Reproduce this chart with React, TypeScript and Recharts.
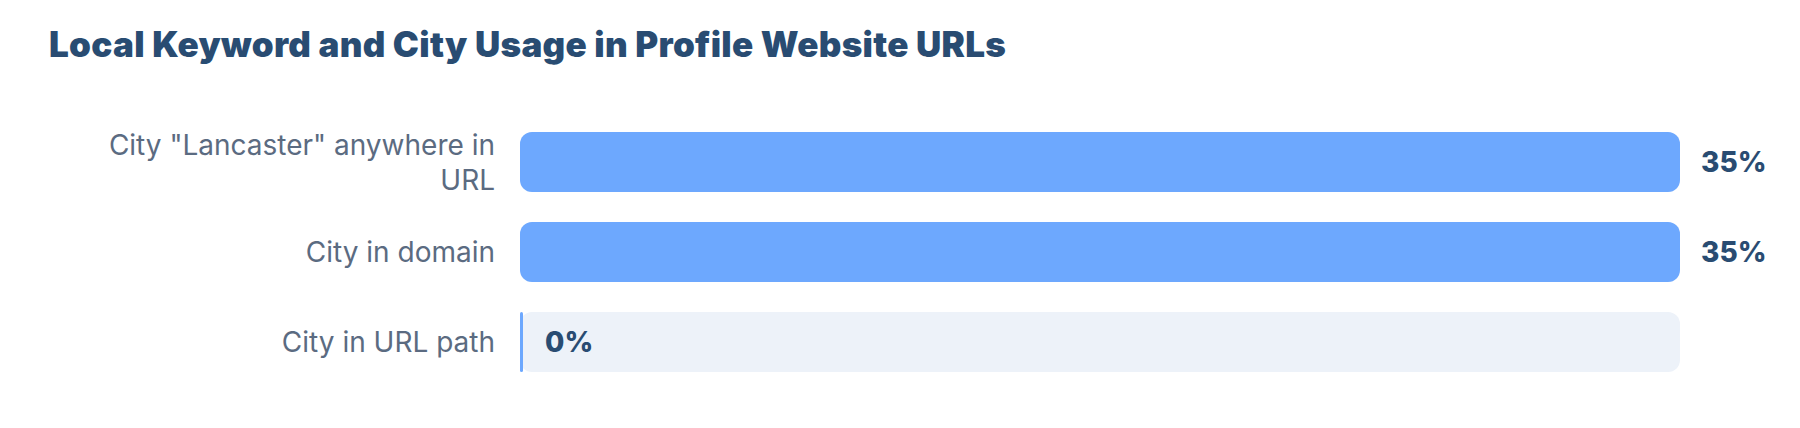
import React from 'react'
import { BarChart, Bar, XAxis, YAxis, LabelList } from 'recharts'

const categories = ['City "Lancaster" anywhere in URL', 'City in domain', 'City in URL path']
const shares = [35, 35, 0]
const maxShare = 35

const data = categories.map((name, i) => ({ name, value: shares[i] }))

const FONT = 'Inter, "Noto Sans", sans-serif'
const TICK_SIZE = 28
const TICK_LINE = 35
const TICK_MAX_WIDTH = 410

let ctx: CanvasRenderingContext2D | null = null
const measure = (s: string) => {
  if (!ctx) {
    ctx = document.createElement('canvas').getContext('2d')
    if (ctx) ctx.font = `${TICK_SIZE}px Inter`
  }
  return ctx ? ctx.measureText(s).width : s.length * TICK_SIZE * 0.55
}

const wrap = (label: string) => {
  const words = label.split(' ')
  const lines: string[] = []
  let cur = ''
  words.forEach((w) => {
    const next = cur ? cur + ' ' + w : w
    if (cur && measure(next) > TICK_MAX_WIDTH) {
      lines.push(cur)
      cur = w
    } else {
      cur = next
    }
  })
  if (cur) lines.push(cur)
  return lines
}

const CategoryTick = (props: any) => {
  const { x, y, payload } = props
  const lines = wrap(String(payload.value))
  const first = Number(y) - ((lines.length - 1) * TICK_LINE) / 2 + 10
  return (
    <text textAnchor="end" fill="#5B6B81" fontSize={TICK_SIZE} fontFamily={FONT}>
      {lines.map((line, i) => (
        <tspan key={i} x={x} y={first + i * TICK_LINE}>
          {line}
        </tspan>
      ))}
    </text>
  )
}

const ValueLabel = (props: any) => {
  const { x, y, width, height, value } = props
  const cy = Number(y) + Number(height) / 2
  const tx = value > 0 ? Number(x) + Number(width) + 21 : Number(x) + 25
  return (
    <text x={tx} y={cy + 10} fill="#294C72" fontSize={28} fontWeight={800} fontFamily={FONT}>
      {value}%
    </text>
  )
}

export default function App() {
  return (
    <div style={{ position: 'fixed', left: 0, top: 0, width: 1800, height: 428, background: '#fff' }}>
      <div
        style={{
          position: 'absolute',
          left: 49,
          top: 28,
          fontFamily: FONT,
          fontSize: 35,
          fontWeight: 900,
          lineHeight: '32px',
          letterSpacing: 0.3,
          color: '#294C72',
          whiteSpace: 'nowrap',
        }}
      >
        Local Keyword and City Usage in Profile Website URLs
      </div>
      <div style={{ position: 'absolute', left: 0, top: 0 }}>
        <BarChart
          width={1800}
          height={428}
          data={data}
          layout="vertical"
          margin={{ top: 117, right: 120, bottom: 41, left: 0 }}
        >
          <XAxis type="number" domain={[0, maxShare]} hide />
          <YAxis
            type="category"
            dataKey="name"
            width={520}
            axisLine={false}
            tickLine={false}
            tickSize={0}
            tickMargin={25}
            tick={<CategoryTick />}
            interval={0}
          />
          <Bar
            dataKey="value"
            fill="#6DA8FE"
            barSize={60}
            radius={12}
            minPointSize={3}
            background={{ fill: '#EDF2F9', radius: 12 }}
            isAnimationActive={false}
          >
            <LabelList dataKey="value" content={<ValueLabel />} />
          </Bar>
        </BarChart>
      </div>
    </div>
  )
}
